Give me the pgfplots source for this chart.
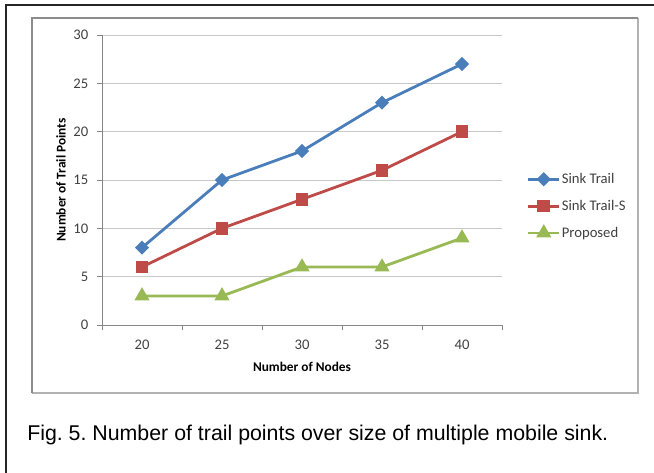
\documentclass[border=0pt]{standalone}
\usepackage{fontspec}
\setmainfont{Carlito}
\newfontfamily\arialfont{Liberation Sans}
\usepackage{pgfplots}
\pgfplotsset{compat=1.18}
\definecolor{stblue}{HTML}{4A7EBB}
\definecolor{stred}{HTML}{BE4B48}
\definecolor{stgreen}{HTML}{98B954}
\definecolor{axgray}{HTML}{868686}
\definecolor{gridgray}{HTML}{C8C8C8}
\definecolor{txtgray}{HTML}{404040}
\begin{document}
\frenchspacing
\begin{tikzpicture}[x=0.75pt,y=0.75pt]
\useasboundingbox (0,0) rectangle (654,472);
% outer frame (top and left visible)
\draw[line width=1.5pt, black!85] (6,-2) -- (6,467) -- (656,467);
% chart area border
\draw[line width=0.8pt, black!30] (638,454) -- (638,79) -- (32,79);
\draw[line width=1.3pt, black!45] (32,79) -- (32,454) -- (638,454);
\begin{axis}[
  at={(76.5pt,110.25pt)}, anchor=south west,
  scale only axis, width=300pt, height=217.5pt,
  xmin=17.5, xmax=42.5, ymin=0, ymax=30,
  axis lines=left, axis line style={-, draw=axgray, line width=0.6pt},
  xtick={20,25,30,35,40},
  minor xtick={17.5,22.5,27.5,32.5,37.5,42.5},
  ytick={0,5,10,15,20,25,30},
  major x tick style={draw=none},
  minor x tick style={draw=axgray, line width=0.6pt},
  y tick style={draw=axgray, line width=0.6pt},
  tick align=outside,
  major tick length=3.75pt, minor tick length=3.75pt,
  ymajorgrids, grid style={draw=gridgray, line width=0.6pt},
  /pgf/number format/assume math mode=true,
  tick label style={font=\fontsize{11}{13}\selectfont, text=txtgray},
  xticklabel style={yshift=-4pt},
  yticklabel style={xshift=-3pt},
  xlabel={\textbf{Number of Nodes}},
  ylabel={\textbf{Number of Trail Points}},
  label style={font=\fontsize{11}{13}\selectfont, text=black!85},
  every axis x label/.style={at={(axis description cs:0.5,-0.145)}, anchor=center},
  every axis y label/.style={at={(axis description cs:-0.1025,0.50)}, anchor=center, rotate=90},
  legend style={at={(1.052,0.41)}, anchor=west, draw=none, fill=none,
    font=\fontsize{11}{13}\selectfont, text=txtgray, row sep=9pt,
    nodes={inner sep=1pt}},
  legend cell align=left,
  legend image code/.code={\draw[mark repeat=2,mark phase=2,#1] plot coordinates {(0pt,0pt) (11.5pt,0pt) (23pt,0pt)};},
  clip=false,
]
\addplot[stblue, line width=2.1pt, mark=square*, mark size=2.7pt, mark options={solid, rotate=45}] coordinates {(20,8) (25,15) (30,18) (35,23) (40,27)};
\addlegendentry{Sink Trail}
\addplot[stred, line width=2.1pt, mark=square*, mark size=3.7pt, mark options={solid}] coordinates {(20,6) (25,10) (30,13) (35,16) (40,20)};
\addlegendentry{Sink Trail-S}
\addplot[stgreen, line width=2.1pt, mark=triangle*, mark size=4.5pt, mark options={solid}] coordinates {(20,3) (25,3) (30,6) (35,6) (40,9)};
\addlegendentry{Proposed}
\end{axis}
\node[anchor=base west, inner sep=0pt, font=\arialfont\fontsize{16}{19}\selectfont] at (27,32) {Fig. 5. Number of trail points over size of multiple mobile sink.};
\end{tikzpicture}
\end{document}
